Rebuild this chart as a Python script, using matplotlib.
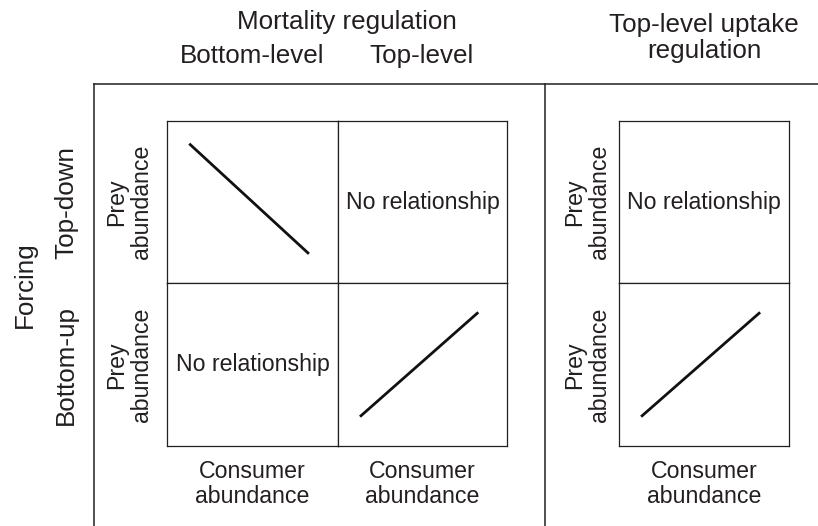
import numpy as np
import matplotlib
matplotlib.use("Agg")
import matplotlib.pyplot as plt
from matplotlib.lines import Line2D

plt.rcParams['font.family'] = ['Liberation Sans', 'DejaVu Sans']

# conceptual relationships (normalised cell coordinates)
consumer = [0.13, 0.83]
prey_negative = [0.86, 0.18]
prey_positive = [0.18, 0.82]

col_labels = ["Bottom-level", "Top-level"]
row_labels = ["Top-down", "Bottom-up"]
# cell content: (row, col) -> None for "No relationship", else prey series
left_cells = {(0, 0): prey_negative, (0, 1): None,
              (1, 0): None, (1, 1): prey_positive}
right_cells = {0: None, 1: prey_positive}

W, H = 818, 526
TXT = "#231f20"
fig = plt.figure(figsize=(W / 100, H / 100), dpi=100)


def fx(x):
    return x / W


def fy(y):
    return 1 - y / H


def add_cell(x0, x1, y0, y1, prey):
    ax = fig.add_axes([fx(x0), fy(y1), fx(x1) - fx(x0), fy(y0) - fy(y1)])
    ax.set_xlim(0, 1)
    ax.set_ylim(0, 1)
    ax.set_xticks([])
    ax.set_yticks([])
    for s in ax.spines.values():
        s.set_linewidth(0.9)
        s.set_color("#231f20")
    if prey is None:
        ax.text(0.5, 0.5, "No relationship", ha="center", va="center",
                fontsize=16.7, color=TXT)
    else:
        ax.plot(consumer, prey, color="#111111", lw=2.0, solid_capstyle="butt")
    return ax


xs = [167, 338, 507]
ys = [121, 283, 446]
for (r, c), prey in left_cells.items():
    add_cell(xs[c], xs[c + 1], ys[r], ys[r + 1], prey)
for r, prey in right_cells.items():
    add_cell(619, 789, ys[r], ys[r + 1], prey)

# outer frame
frame_kw = dict(color="#231f20", lw=1.1, transform=fig.transFigure)
fig.add_artist(Line2D([fx(94), fx(818)], [fy(84), fy(84)], **frame_kw))
fig.add_artist(Line2D([fx(94), fx(94)], [fy(84), fy(526)], **frame_kw))
fig.add_artist(Line2D([fx(545), fx(545)], [fy(84), fy(526)], **frame_kw))

big = 18.7
small = 16.7

# headers
fig.text(fx(347), fy(29), "Mortality regulation", ha="center", va="baseline",
         fontsize=big, color=TXT)
for label, x in zip(col_labels, [252, 422]):
    fig.text(fx(x), fy(63), label, ha="center", va="baseline",
             fontsize=big, color=TXT)
fig.text(fx(704), fy(32), "Top-level uptake", ha="center", va="baseline",
         fontsize=big, color=TXT)
fig.text(fx(704), fy(58), "regulation", ha="center", va="baseline",
         fontsize=big, color=TXT)

# row labels
fig.text(fx(25), fy(285), "Forcing", ha="center", va="center", rotation=90,
         fontsize=big, color=TXT)
for label, y in zip(row_labels, [202, 365]):
    fig.text(fx(66), fy(y), label, ha="center", va="center", rotation=90,
             fontsize=big, color=TXT)

# axis labels inside the grid
for x in [129, 587]:
    for y in [202, 365]:
        fig.text(fx(x), fy(y), "Prey\nabundance", ha="center", va="center",
                 rotation=90, fontsize=small, color=TXT, linespacing=1.1)
for x in [252, 422, 704]:
    fig.text(fx(x), fy(478), "Consumer", ha="center", va="baseline",
             fontsize=small, color=TXT)
    fig.text(fx(x), fy(503), "abundance", ha="center", va="baseline",
             fontsize=small, color=TXT)

fig.savefig("out.png", dpi=100)
